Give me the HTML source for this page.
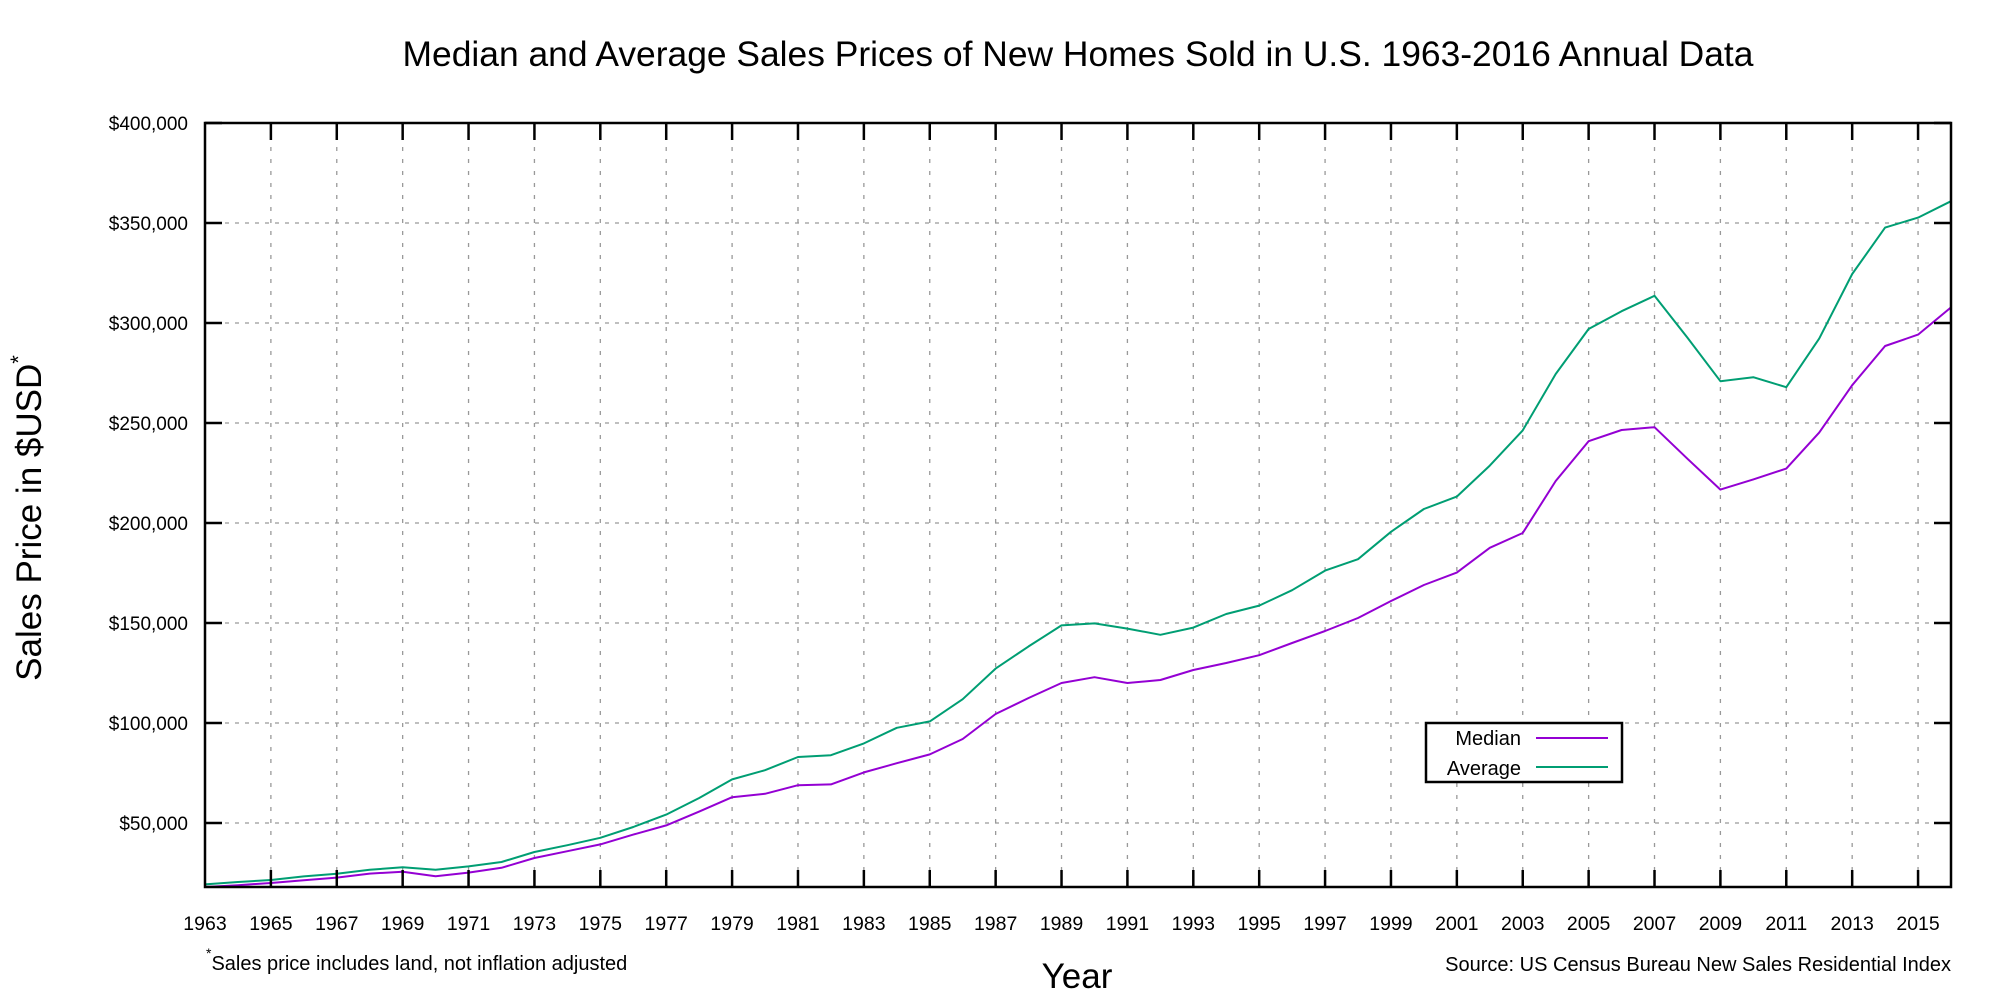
<!DOCTYPE html>
<html><head><meta charset="utf-8"><style>
html,body{margin:0;padding:0;background:#fff}
svg{display:block;font-family:"Liberation Sans",Arial,sans-serif}
</style></head><body>
<svg id="chart" width="2000" height="1000" viewBox="0 0 2000 1000" xmlns="http://www.w3.org/2000/svg">
<rect width="2000" height="1000" fill="#fff"/>
<text x="1078" y="66" font-size="35.4" text-anchor="middle">Median and Average Sales Prices of New Homes Sold in U.S. 1963-2016 Annual Data</text>
<g id="grid"></g>
<g id="lines"></g>
<rect x="205" y="123" width="1746" height="764" fill="none" stroke="#000" stroke-width="2.5"/>
<g id="ticks"></g>
<text transform="translate(41,518) rotate(-90)" font-size="35" text-anchor="middle">Sales Price in $USD<tspan font-size="22" dy="-15">*</tspan></text>
<text x="1077" y="988" font-size="35" text-anchor="middle">Year</text>
<text x="206" y="970" font-size="20"><tspan font-size="14" dy="-12">*</tspan><tspan dy="12">Sales price includes land, not inflation adjusted</tspan></text>
<text x="1951" y="971" font-size="20" text-anchor="end">Source: US Census Bureau New Sales Residential Index</text>
<g>
<rect x="1426" y="723" width="196" height="59" fill="#fff" stroke="#000" stroke-width="2.5"/>
<text x="1521" y="745" font-size="20" text-anchor="end">Median</text>
<line x1="1536" y1="738" x2="1608" y2="738" stroke="#9400d3" stroke-width="2"/>
<text x="1521" y="775" font-size="20" text-anchor="end">Average</text>
<line x1="1536" y1="767" x2="1608" y2="767" stroke="#009e73" stroke-width="2"/>
</g>
</svg>
<script>
const years = [];
for (let y = 1963; y <= 2016; y++) years.push(y);
const medianPrices = [18000,18900,20000,21400,22700,24700,25600,23400,25200,27600,32500,35900,39300,44200,48800,55700,62900,64600,68900,69300,75300,79900,84300,92000,104500,112500,120000,122900,120000,121500,126500,130000,133900,140000,146000,152500,161000,169000,175200,187600,195000,221000,240900,246500,247900,232100,216700,221800,227200,245200,268900,288500,294200,307800];
const averagePrices = [19300,20500,21500,23300,24600,26600,27900,26600,28300,30500,35500,38900,42600,48000,54200,62500,71800,76400,83000,83900,89800,97600,100800,111900,127200,138300,148800,149800,147200,144100,147700,154500,158700,166400,176200,181900,195600,207000,213200,228700,246300,274500,297000,305900,313600,292600,270900,272900,267900,292200,324500,347700,352700,360900];
const yTicks = [50000,100000,150000,200000,250000,300000,350000,400000];
const xTickYears = [1963,1965,1967,1969,1971,1973,1975,1977,1979,1981,1983,1985,1987,1989,1991,1993,1995,1997,1999,2001,2003,2005,2007,2009,2011,2013,2015];

const NS = "http://www.w3.org/2000/svg";
const L = 205, R = 1951, T = 123, B = 887;
const X0 = 1963, X1 = 2016, Y0 = 18000, Y1 = 400000;
function xs(v){ return L + (v - X0) / (X1 - X0) * (R - L); }
function ys(v){ return B - (v - Y0) / (Y1 - Y0) * (B - T); }
function mk(tag, attrs, parent){ const e = document.createElementNS(NS, tag); for (const k in attrs) e.setAttribute(k, attrs[k]); parent.appendChild(e); return e; }
const grid = document.getElementById('grid'), ticks = document.getElementById('ticks'), lines = document.getElementById('lines');
const fmt = v => '$' + v.toLocaleString('en-US');

yTicks.forEach(v => {
  const y = ys(v);
  if (v < Y1) {
    const g = mk('line', {x1:L, x2:R, y1:y, y2:y, stroke:'#999', 'stroke-width':1.3, 'stroke-dasharray':'4,6'}, grid);
    
    
  }
  const t1 = mk('line', {x1:L, x2:L+17, y1:y, y2:y, stroke:'#000', 'stroke-width':2.5}, ticks);
  
  
  const t2 = mk('line', {x1:R-17, x2:R, y1:y, y2:y, stroke:'#000', 'stroke-width':2.5}, ticks);
  
  
  const lb = mk('text', {x:188, y:y+7, 'font-size':19, 'text-anchor':'end'}, ticks);
  lb.textContent = fmt(v);
  
  
});

xTickYears.forEach(v => {
  const x = xs(v);
  if (v > X0) {
    const g = mk('line', {x1:x, x2:x, y1:T, y2:B, stroke:'#999', 'stroke-width':1.3, 'stroke-dasharray':'4,8'}, grid);
    
    
    const t1 = mk('line', {x1:x, x2:x, y1:B-17, y2:B, stroke:'#000', 'stroke-width':2.5}, ticks);
    
    
    const t2 = mk('line', {x1:x, x2:x, y1:T, y2:T+17, stroke:'#000', 'stroke-width':2.5}, ticks);
    
    
  }
  const lb = mk('text', {x:x, y:930, 'font-size':19.5, 'text-anchor':'middle'}, ticks);
  lb.textContent = String(v);
  
  
});

function path(vals, color, name){
  const d = vals.map((v,i) => (i ? 'L' : 'M') + xs(years[i]).toFixed(1) + ',' + ys(v).toFixed(1)).join(' ');
  const p = mk('path', {d:d, fill:'none', stroke:color, 'stroke-width':2, 'stroke-linejoin':'round'}, lines);
  
  
}
path(averagePrices, '#009e73', 'average-price-line');
path(medianPrices, '#9400d3', 'median-price-line');
</script>
</body></html>
